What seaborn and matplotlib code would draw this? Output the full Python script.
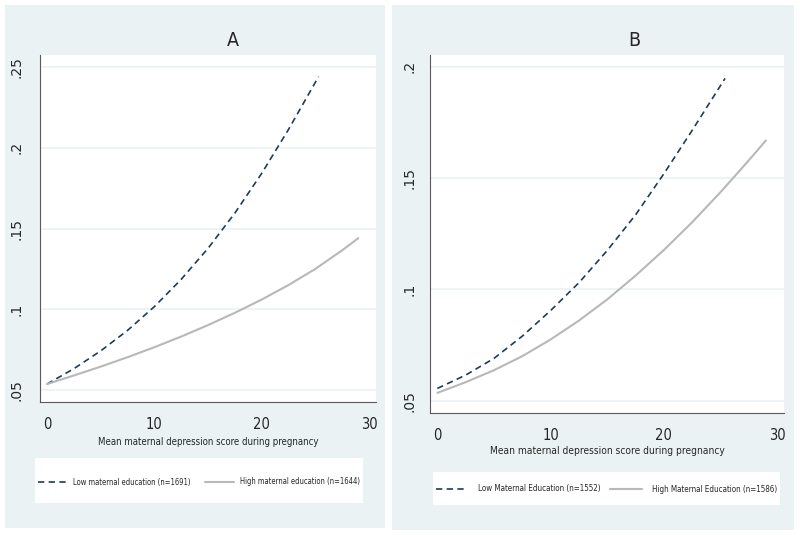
import numpy as np
import pandas as pd
import matplotlib
matplotlib.use('Agg')
import matplotlib.pyplot as plt
from matplotlib.patches import Rectangle
from matplotlib.lines import Line2D
import seaborn as sns

# ── data ──────────────────────────────────────────────────
x_a_low  = [0, 2.5, 5, 7.5, 10, 12.5, 15, 17.5, 20, 22.5, 25.3]
y_a_low  = [.0537, .0632, .0742, .0869, .1016, .1185, .1377, .1595, .1841, .2113, .2440]
x_a_high = [0, 2.5, 5, 7.5, 10, 12.5, 15, 17.5, 20, 22.5, 25, 27.5, 29]
y_a_high = [.0537, .0590, .0645, .0703, .0765, .0831, .0902, .0978, .1060, .1150, .1250, .1365, .1440]

x_b_low  = [0, 2.5, 5, 7.5, 10, 12.5, 15, 17.5, 20, 22.5, 25.4]
y_b_low  = [.0555, .0615, .0690, .0790, .0905, .1030, .1175, .1335, .1520, .1715, .1948]
x_b_high = [0, 2.5, 5, 7.5, 10, 12.5, 15, 17.5, 20, 22.5, 25, 27.5, 29]
y_b_high = [.0535, .0583, .0637, .0700, .0775, .0860, .0955, .1062, .1177, .1302, .1437, .1580, .1669]

x_ticks = [0, 10, 20, 30]
yticks_a = [.05, .1, .15, .2, .25]
ylabels_a = ['.05', '.1', '.15', '.2', '.25']
yticks_b = [.05, .1, .15, .2]
ylabels_b = ['.05', '.1', '.15', '.2']

titles = ['A', 'B']
xlabel = 'Mean maternal depression score during pregnancy'
legend_a = ['Low maternal education (n=1691)', 'High maternal education (n=1644)']
legend_b = ['Low Maternal Education (n=1552)', 'High Maternal Education (n=1586)']

# ── style ─────────────────────────────────────────────────
sns.set_style('white')
plt.rcParams['font.family'] = ['DejaVu Sans']
plt.rcParams['font.stretch'] = 'condensed'   # Stata-like narrow text

BG = '#eaf2f3'
NAVY = '#1f3b5c'
GREY = '#b8b8b8'
AXC = '#5a5a5a'
DASH = (0, (3.8, 2.6))

W, H = 800, 535
fig = plt.figure(figsize=(W / 100, H / 100), dpi=100)
fig.patch.set_facecolor('white')

def px_rect(x0, y0, x1, y1):
    # pixel box (top-left origin) -> figure fractions
    return [x0 / W, 1 - y1 / H, (x1 - x0) / W, (y1 - y0) / H]

# panel backgrounds
for x0, y0, x1, y1 in [(5, 5, 385, 528), (392, 5, 794, 530)]:
    l, b, w, h = px_rect(x0, y0, x1, y1)
    fig.patches.append(Rectangle((l, b), w, h, transform=fig.transFigure,
                                 facecolor=BG, edgecolor='none', zorder=-5))

panels = [
    dict(box=(40, 55, 376, 402), xlim=(-0.65, 30.65), ylim=(.0426, .2574),
         low=(x_a_low, y_a_low), high=(x_a_high, y_a_high),
         yt=yticks_a, yl=ylabels_a, title=titles[0], tx=233,
         xl_y=442, xl_size=6.9, leg=legend_a, legbox=(35, 458, 363, 503), leg_y=482,
         leg_kw=dict(fontsize=5.5, handlelength=3.8, handletextpad=0.8, columnspacing=1.8),
         ypad=7, xpad=6),
    dict(box=(430, 55, 784, 412.7), xlim=(-0.65, 30.6), ylim=(.0446, .2053),
         low=(x_b_low, y_b_low), high=(x_b_high, y_b_high),
         yt=yticks_b, yl=ylabels_b, title=titles[1], tx=634,
         xl_y=451, xl_size=7.3, leg=legend_b, legbox=(433, 472, 780, 505), leg_y=489,
         leg_kw=dict(fontsize=5.8, handlelength=4.0, handletextpad=1.2, columnspacing=1.2),
         ypad=5, xpad=6),
]

for p in panels:
    ax = fig.add_axes(px_rect(*p['box']))
    ax.set_zorder(2)
    ax.set_facecolor('white')

    sns.lineplot(x=p['low'][0], y=p['low'][1], ax=ax, color=NAVY,
                 linewidth=1.2, linestyle=DASH)
    sns.lineplot(x=p['high'][0], y=p['high'][1], ax=ax, color=GREY,
                 linewidth=1.5)

    ax.set_xlim(*p['xlim'])
    ax.set_ylim(*p['ylim'])
    ax.set_xticks(x_ticks)
    ax.set_xticklabels([str(t) for t in x_ticks], fontsize=10.5)
    ax.set_yticks(p['yt'])
    ax.set_yticklabels(p['yl'], rotation=90, va='center', fontsize=10,
                       fontstretch='normal')
    ax.tick_params(axis='x', length=5, width=0.8, color=AXC, pad=p['xpad'])
    ax.tick_params(axis='y', length=5, width=0.8, color=AXC, pad=p['ypad'])
    ax.grid(axis='y', color=BG, linewidth=1.2)
    ax.grid(axis='x', visible=False)
    for s in ['top', 'right']:
        ax.spines[s].set_visible(False)
    for s in ['left', 'bottom']:
        ax.spines[s].set_color(AXC)
        ax.spines[s].set_linewidth(0.8)

    x0, _, x1, _ = p['box']
    fig.text(p['tx'] / W, 1 - 40 / H, p['title'], ha='center', va='center', fontsize=14)
    fig.text((x0 + x1) / 2 / W, 1 - p['xl_y'] / H, xlabel, ha='center', va='center',
             fontsize=p['xl_size'])

    # legend: white box plus frameless legend on top
    lx0, ly0, lx1, ly1 = p['legbox']
    l, b, w, h = px_rect(lx0, ly0, lx1, ly1)
    fig.patches.append(Rectangle((l, b), w, h, transform=fig.transFigure,
                                 facecolor='white', edgecolor='none', zorder=1))
    handles = [Line2D([], [], color=NAVY, linewidth=1.2, linestyle=DASH),
               Line2D([], [], color=GREY, linewidth=1.5)]
    fig.legend(handles, p['leg'], loc='center', ncol=2, frameon=False,
               bbox_to_anchor=(l + w / 2, 1 - p['leg_y'] / H), **p['leg_kw'])

fig.savefig('out.png', dpi=100, facecolor='white')
